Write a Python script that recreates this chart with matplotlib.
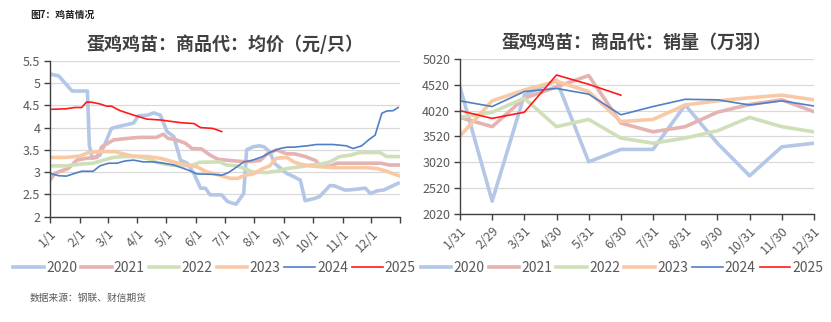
import matplotlib
matplotlib.use("Agg")

import matplotlib.pyplot as plt
import numpy as np

plt.rcParams["font.family"] = ["Noto Sans CJK SC", "DejaVu Sans"]

YEARS = ["2020", "2021", "2022", "2023", "2024", "2025"]
COLORS = ["#b4c7e7", "#e6b3b3", "#cfe0b8", "#f9c9a6", "#4f7fc6", "#ff1a1a"]
WIDTHS = [2.6, 2.6, 2.6, 2.6, 1.2, 1.2]

# left chart: day-of-year / price vertices
MONTH_DAYS = [0, 31, 60, 91, 121, 152, 182, 213, 244, 274, 305, 335, 365]
MONTH_LABELS = ["1/1", "2/1", "3/1", "4/1", "5/1", "6/1", "7/1", "8/1",
                "9/1", "10/1", "11/1", "12/1"]

price_2020_day = [0, 9, 23, 39, 41, 44, 52, 59, 64, 71, 87, 92, 102, 108, 115,
                  122, 129, 136, 143, 150, 157, 162, 167, 179, 185, 194, 202,
                  205, 212, 218, 223, 229, 234, 247, 254, 261, 266, 276, 281,
                  292, 297, 307, 312, 329, 334, 341, 348, 355, 363]
price_2020 = [5.2, 5.16, 4.82, 4.82, 3.6, 3.31, 3.38, 3.72, 3.98, 4.02, 4.1, 4.26,
              4.28, 4.33, 4.28, 3.91, 3.8, 3.27, 3.2, 2.97, 2.64, 2.64, 2.49, 2.49,
              2.34, 2.28, 2.52, 3.5, 3.57, 3.59, 3.57, 3.46, 3.2, 2.97, 2.9, 2.82,
              2.36, 2.41, 2.45, 2.7, 2.69, 2.6, 2.6, 2.64, 2.52, 2.58, 2.6, 2.67, 2.75]

price_2021_day = [0, 5, 12, 19, 28, 38, 49, 54, 59, 66, 73, 87, 94, 111, 118,
                  123, 132, 141, 148, 158, 167, 175, 188, 205, 219, 226, 236,
                  247, 255, 266, 277, 281, 292, 299, 303, 345, 354, 365]
price_2021 = [2.82, 2.97, 3.03, 3.08, 3.27, 3.31, 3.33, 3.57, 3.63, 3.72, 3.74,
              3.77, 3.78, 3.78, 3.85, 3.76, 3.72, 3.65, 3.53, 3.52, 3.38, 3.29, 3.26,
              3.23, 3.26, 3.4, 3.5, 3.41, 3.41, 3.35, 3.26, 3.16, 3.13, 3.2, 3.2,
              3.2, 3.16, 3.16]

price_2022_day = [0, 17, 31, 45, 56, 66, 77, 90, 101, 111, 125, 139, 149, 156,
                  177, 184, 195, 205, 212, 226, 236, 247, 261, 273, 282, 292,
                  302, 313, 323, 344, 351, 365]
price_2022 = [3.14, 3.14, 3.18, 3.2, 3.27, 3.33, 3.35, 3.35, 3.31, 3.22, 3.16,
              3.14, 3.16, 3.22, 3.23, 3.16, 3.14, 3.06, 3.0, 2.99, 3.02, 3.08, 3.12,
              3.16, 3.18, 3.23, 3.35, 3.38, 3.44, 3.44, 3.35, 3.35]

price_2023_day = [0, 17, 31, 40, 52, 68, 76, 87, 101, 115, 122, 132, 143, 153,
                  163, 177, 188, 196, 203, 212, 222, 229, 236, 247, 254, 261,
                  271, 282, 296, 330, 341, 351, 365]
price_2023 = [3.33, 3.33, 3.36, 3.44, 3.46, 3.46, 3.41, 3.36, 3.35, 3.31, 3.27,
              3.21, 3.16, 3.12, 3.01, 2.93, 2.86, 2.86, 2.93, 2.96, 3.08, 3.14, 3.31,
              3.33, 3.23, 3.18, 3.14, 3.12, 3.1, 3.1, 3.08, 3.02, 2.91]

price_2024_day = [0, 9, 17, 24, 33, 45, 52, 61, 70, 78, 87, 97, 108, 118, 129,
                  137, 146, 153, 170, 179, 186, 191, 202, 210, 222, 229, 240,
                  247, 254, 268, 278, 295, 309, 316, 325, 332, 339, 346, 351,
                  358, 363]
price_2024 = [2.97, 2.92, 2.91, 2.96, 3.02, 3.02, 3.14, 3.2, 3.2, 3.25, 3.27,
              3.23, 3.23, 3.2, 3.16, 3.1, 3.03, 2.96, 2.95, 2.93, 2.99, 3.06, 3.23,
              3.26, 3.35, 3.44, 3.53, 3.56, 3.56, 3.59, 3.62, 3.62, 3.59, 3.53, 3.59,
              3.72, 3.83, 4.32, 4.37, 4.38, 4.45]

price_2025_day = [2, 16, 26, 33, 38, 43, 52, 59, 64, 73, 87, 101, 115, 122,
                  136, 150, 157, 170, 179]
price_2025 = [4.41, 4.42, 4.45, 4.45, 4.57, 4.57, 4.53, 4.48, 4.48, 4.38, 4.28,
              4.19, 4.17, 4.15, 4.11, 4.09, 4.0, 3.98, 3.91]

PRICE_DAYS = [price_2020_day, price_2021_day, price_2022_day, price_2023_day,
              price_2024_day, price_2025_day]
PRICE_VALS = [price_2020, price_2021, price_2022, price_2023, price_2024, price_2025]

# right chart: monthly sales (10k birds)
SALES_MONTHS = ["1/31", "2/29", "3/31", "4/30", "5/31", "6/30", "7/31", "8/31",
                "9/30", "10/31", "11/30", "12/31"]
sales_2020 = [4480, 2270, 4320, 4610, 3030, 3270, 3270, 4130, 3390, 2760, 3320, 3390]
sales_2021 = [3890, 3710, 4260, 4480, 4700, 3780, 3610, 3710, 3990, 4140, 4230, 4000]
sales_2022 = [3890, 3990, 4260, 3710, 3850, 3490, 3390, 3490, 3630, 3890, 3710, 3610]
sales_2023 = [3530, 4210, 4420, 4590, 4390, 3810, 3850, 4130, 4210, 4270, 4320, 4230]
sales_2024 = [4210, 4100, 4390, 4450, 4340, 3940, 4100, 4240, 4230, 4130, 4210, 4110]
sales_2025 = [4020, 3870, 3990, 4710, 4530, 4320]
SALES_VALS = [sales_2020, sales_2021, sales_2022, sales_2023, sales_2024, sales_2025]

TICK_COLOR = "#595959"
GRID_COLOR = "#d9d9d9"


def style_axes(ax):
    for side in ["top", "right"]:
        ax.spines[side].set_visible(False)
    for side in ["left", "bottom"]:
        ax.spines[side].set_color("#404040")
        ax.spines[side].set_linewidth(1.0)
    ax.grid(axis="y", color=GRID_COLOR, linewidth=0.9)
    ax.set_axisbelow(True)
    ax.tick_params(axis="both", colors="#404040", labelcolor=TICK_COLOR,
                   labelsize=9, length=4, width=1.0, direction="out")
    ax.tick_params(axis="y", pad=3)
    for lab in ax.get_xticklabels():
        lab.set_rotation(45)
        lab.set_ha("right")
        lab.set_rotation_mode("anchor")


def add_legend(ax, x_center, y_center):
    ax.legend(loc="center", bbox_to_anchor=(x_center, y_center), ncol=6,
              frameon=False, fontsize=10, handlelength=2.2, handletextpad=0.15,
              columnspacing=0.3, borderaxespad=0, borderpad=0,
              labelcolor=TICK_COLOR)


fig = plt.figure(figsize=(8.31, 3.22), dpi=100)

# left chart
ax1 = fig.add_axes([0.0602, 0.327, 0.4212, 0.4845])
for i, yr in enumerate(YEARS):
    ax1.plot(PRICE_DAYS[i], PRICE_VALS[i], color=COLORS[i], lw=WIDTHS[i],
             label=yr, solid_joinstyle="round")
ax1.set_xlim(0, 365)
ax1.set_ylim(2, 5.5)
ax1.set_yticks(np.arange(2, 5.51, 0.5))
ax1.set_yticklabels(["2", "2.5", "3", "3.5", "4", "4.5", "5", "5.5"])
ax1.set_xticks(MONTH_DAYS)
ax1.set_xticklabels(MONTH_LABELS + [""])
style_axes(ax1)
ax1.set_title("蛋鸡鸡苗：商品代：均价（元/只）", fontsize=13, color="#404040",
              fontweight="bold", pad=8)
add_legend(ax1, 0.47, -0.33)

# right chart
ax2 = fig.add_axes([0.5535, 0.3354, 0.426, 0.4814])
xs = np.arange(len(SALES_MONTHS))
for i, yr in enumerate(YEARS):
    vals = SALES_VALS[i]
    ax2.plot(xs[:len(vals)], vals, color=COLORS[i], lw=WIDTHS[i], label=yr,
             solid_joinstyle="round")
ax2.set_xlim(0, len(SALES_MONTHS) - 1)
ax2.set_ylim(2020, 5020)
ax2.set_yticks(np.arange(2020, 5021, 500))
ax2.set_xticks(xs)
ax2.set_xticklabels(SALES_MONTHS)
style_axes(ax2)
ax2.set_title("蛋鸡鸡苗：商品代：销量（万羽）", fontsize=13, color="#404040",
              fontweight="bold", pad=8)
add_legend(ax2, 0.458, -0.35)

fig.text(0.036, 0.955, "图7：鸡苗情况", fontsize=7, fontweight="bold",
         color="#202020", va="center")
fig.text(0.036, 0.075, "数据来源：钢联、财信期货", fontsize=7, style="italic",
         color="#595959", va="center")

fig.savefig("out.png", dpi=100)
